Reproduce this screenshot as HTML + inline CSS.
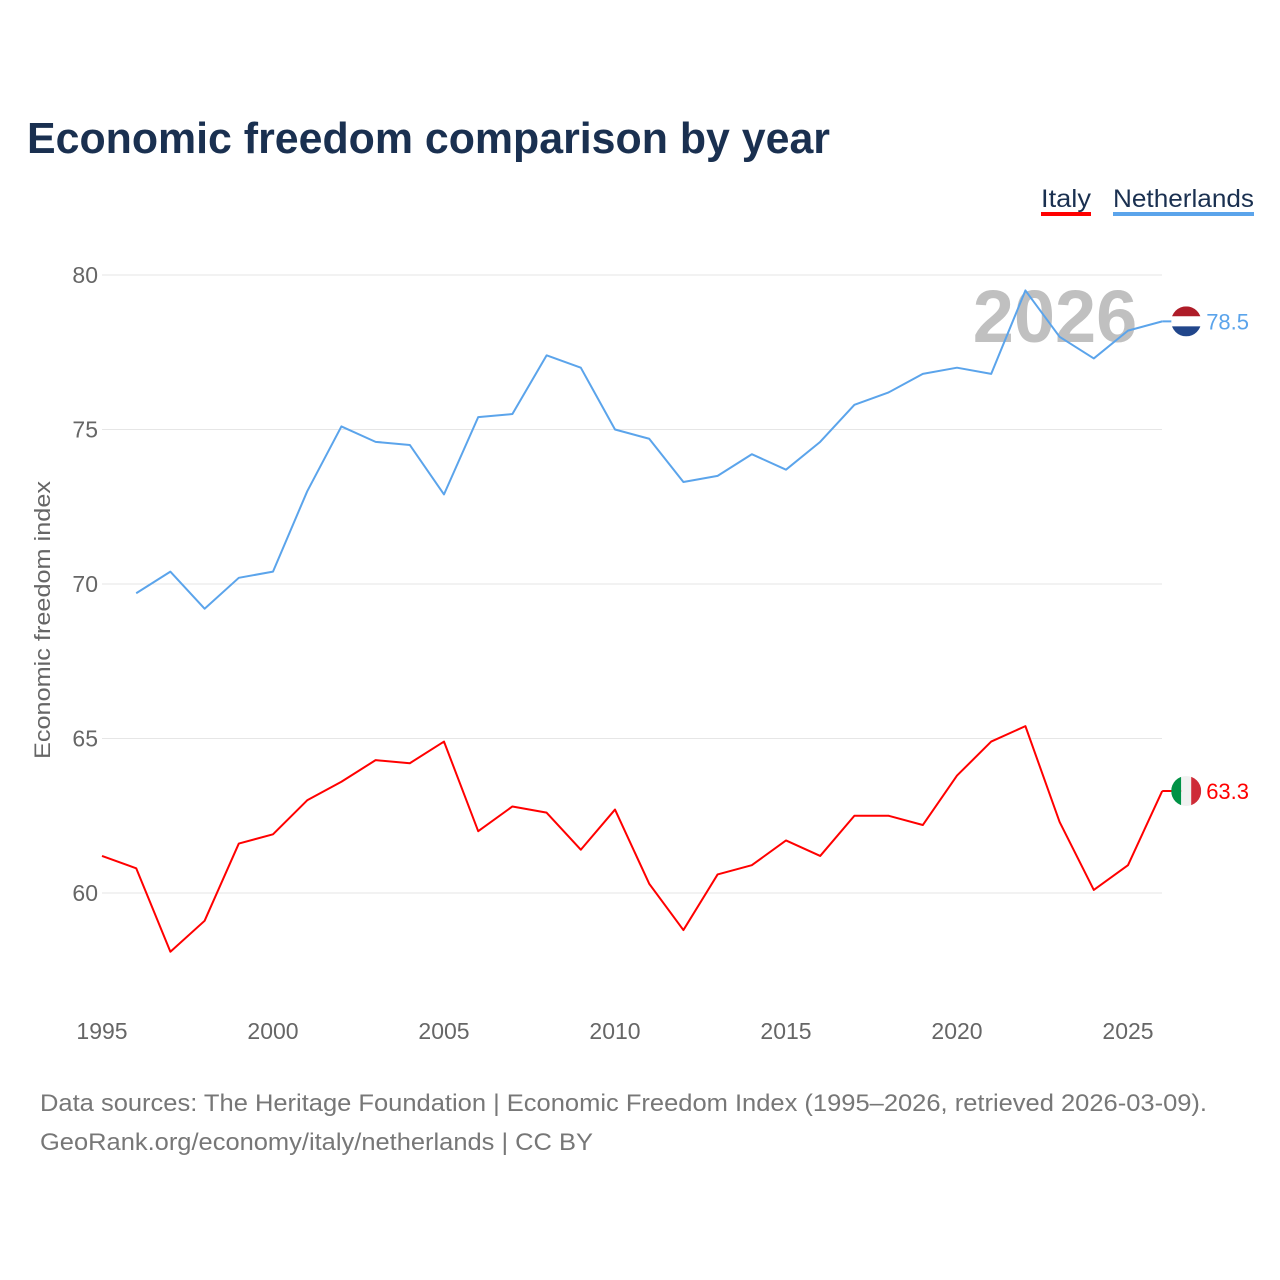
<!DOCTYPE html>
<html><head><meta charset="utf-8"><style>
body{margin:0;background:#fff;font-family:"Liberation Sans",sans-serif;}
svg{display:block}
</style></head><body>
<svg id="chart" width="1280" height="1280">
<text x="27" y="153" font-size="44" font-weight="bold" fill="#1a3050" textLength="803" lengthAdjust="spacingAndGlyphs">Economic freedom comparison by year</text>
<g>
<text x="1041" y="207" font-size="25" fill="#1a3050" textLength="50" lengthAdjust="spacingAndGlyphs">Italy</text>
<rect x="1041" y="212" width="50" height="4" fill="#ff0000"/>
<text x="1113" y="207" font-size="25" fill="#1a3050" textLength="141" lengthAdjust="spacingAndGlyphs">Netherlands</text>
<rect x="1113" y="212" width="141" height="4" fill="#5ba4eb"/>
</g>
<text x="1055" y="342" font-size="74" font-weight="bold" fill="#c0c0c0" text-anchor="middle">2026</text>
<text transform="translate(50,620) rotate(-90)" font-size="22" fill="#666" text-anchor="middle" textLength="278" lengthAdjust="spacingAndGlyphs">Economic freedom index</text>
<g id="grid"></g><g id="xt"></g><g id="lines"></g>
<text x="40" y="1111" font-size="24" fill="#777" textLength="1167" lengthAdjust="spacingAndGlyphs">Data sources: The Heritage Foundation | Economic Freedom Index (1995–2026, retrieved 2026-03-09).</text>
<text x="40" y="1150" font-size="24" fill="#777" textLength="553" lengthAdjust="spacingAndGlyphs">GeoRank.org/economy/italy/netherlands | CC BY</text>
</svg>
<script>
const yTicks=[60,65,70,75,80];
const xTicks=[1995,2000,2005,2010,2015,2020,2025];
const nlYears=[1996,1997,1998,1999,2000,2001,2002,2003,2004,2005,2006,2007,2008,2009,2010,2011,2012,2013,2014,2015,2016,2017,2018,2019,2020,2021,2022,2023,2024,2025,2026];
const nlValues=[69.7,70.4,69.2,70.2,70.4,73.0,75.1,74.6,74.5,72.9,75.4,75.5,77.4,77.0,75.0,74.7,73.3,73.5,74.2,73.7,74.6,75.8,76.2,76.8,77.0,76.8,79.5,78.0,77.3,78.2,78.5];
const itYears=[1995,1996,1997,1998,1999,2000,2001,2002,2003,2004,2005,2006,2007,2008,2009,2010,2011,2012,2013,2014,2015,2016,2017,2018,2019,2020,2021,2022,2023,2024,2025,2026];
const itValues=[61.2,60.8,58.1,59.1,61.6,61.9,63.0,63.6,64.3,64.2,64.9,62.0,62.8,62.6,61.4,62.7,60.3,58.8,60.6,60.9,61.7,61.2,62.5,62.5,62.2,63.8,64.9,65.4,62.3,60.1,60.9,63.3];
const NS="http://www.w3.org/2000/svg";
const X=y=>102+(y-1995)*(1128-102)/30;
const Y=v=>893-(v-60)*(893-275)/20;
function mk(t,a,p){const e=document.createElementNS(NS,t);for(const k in a)e.setAttribute(k,a[k]);p.appendChild(e);return e;}
const grid=document.getElementById('grid');
yTicks.forEach(v=>{
 const l=mk('line',{x1:102,x2:1162,y1:Y(v),y2:Y(v),stroke:'#e6e6e6','stroke-width':1},grid);
 
 
 const t=mk('text',{x:98,y:Y(v)+8,'font-size':23,fill:'#666','text-anchor':'end'},grid);
 t.textContent=v;
 
 
});
const xt=document.getElementById('xt');
xTicks.forEach(v=>{
 const t=mk('text',{x:X(v),y:1039,'font-size':23,fill:'#666','text-anchor':'middle'},xt);
 t.textContent=v;
 
 
});
const lines=document.getElementById('lines');
function series(years,vals,color,name,flag){
 const p=mk('polyline',{points:years.map((y,i)=>X(y)+','+Y(vals[i])).join(' '),fill:'none',stroke:color,'stroke-width':2,'stroke-linejoin':'round'},lines);
 
 
 const lx=X(years[years.length-1]),lv=vals[vals.length-1],ly=Y(lv);
 const g=mk('g',{},lines);
 
 
 const cx=lx+24;
 mk('line',{x1:lx,x2:cx,y1:ly,y2:ly,stroke:color,'stroke-width':2},g);
 const id='c'+name;
 const cp=mk('clipPath',{id:id},g);mk('circle',{cx:cx,cy:ly,r:15},cp);
 const cg=mk('g',{'clip-path':'url(#'+id+')'},g);
 if(flag==='nl'){
  mk('rect',{x:cx-15,y:ly-15,width:30,height:10,fill:'#ae1c28'},cg);
  mk('rect',{x:cx-15,y:ly-5,width:30,height:10,fill:'#fff'},cg);
  mk('rect',{x:cx-15,y:ly+5,width:30,height:10,fill:'#21468b'},cg);
 }else{
  mk('rect',{x:cx-15,y:ly-15,width:10,height:30,fill:'#009246'},cg);
  mk('rect',{x:cx-5,y:ly-15,width:10,height:30,fill:'#f1f2f1'},cg);
  mk('rect',{x:cx+5,y:ly-15,width:10,height:30,fill:'#ce2b37'},cg);
 }
 const t=mk('text',{x:cx+20,y:ly+8,'font-size':22,fill:color},lines);
 t.textContent=lv.toFixed(1);
 
 
}
series(nlYears,nlValues,'#5ba4eb','netherlands','nl');
series(itYears,itValues,'#ff0000','italy','it');
</script>
</body></html>
